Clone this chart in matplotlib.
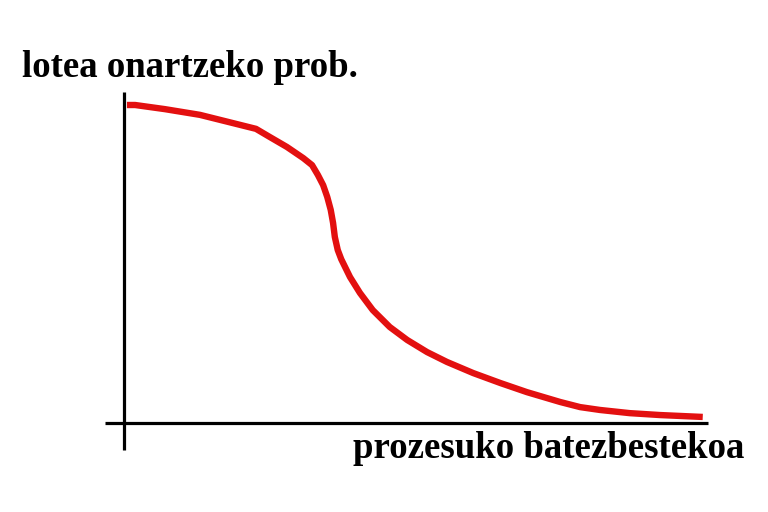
import matplotlib
matplotlib.use("Agg")
import matplotlib.pyplot as plt

# curve: mean of process -> probability of accepting the lot
mean_x = [0.05, 0.19, 0.70, 1.30, 2.26, 2.50, 2.79, 3.07, 3.22, 3.32, 3.41, 3.48, 3.54,
          3.58, 3.61, 3.66, 3.72, 3.87, 4.04, 4.26, 4.55, 4.85, 5.19, 5.53, 5.98, 6.44,
          6.90, 7.47, 7.81, 8.15, 8.66, 9.18, 9.91]
accept_p = [1.0, 1.0, 0.987, 0.969, 0.925, 0.899, 0.868, 0.833, 0.811, 0.780, 0.748, 0.711, 0.670,
            0.629, 0.585, 0.544, 0.515, 0.459, 0.409, 0.355, 0.302, 0.261, 0.223, 0.192, 0.157, 0.126,
            0.097, 0.066, 0.050, 0.041, 0.031, 0.025, 0.019]

ylabel = "lotea onartzeko prob."
xlabel = "prozesuko batezbestekoa"

fig = plt.figure(figsize=(7.68, 5.12), dpi=100)
ax = fig.add_axes([0, 0, 1, 1])
ax.axis("off")
sx, sy = 58.4, 318.0
ax.set_xlim(-124 / sx, (768 - 124) / sx)
ax.set_ylim(-(512 - 423) / sy, 423 / sy)

# hand-drawn axes
ax.plot([0, 0], [-0.085, 1.04], color="black", lw=2.3, solid_capstyle="butt")
ax.plot([-0.325, 10.0], [0, 0], color="black", lw=2.3, solid_capstyle="butt")

ax.plot(mean_x, accept_p, color="#e31010", lw=4.6, solid_joinstyle="round", solid_capstyle="butt")

font = dict(family="Liberation Serif", weight="bold", size=26.5)
ax.text(-1.75, 1.088, ylabel, ha="left", va="baseline", **font)
ax.text(10.63, -0.11, xlabel, ha="right", va="baseline", **font)

fig.savefig("out.png", dpi=100, facecolor="white")
